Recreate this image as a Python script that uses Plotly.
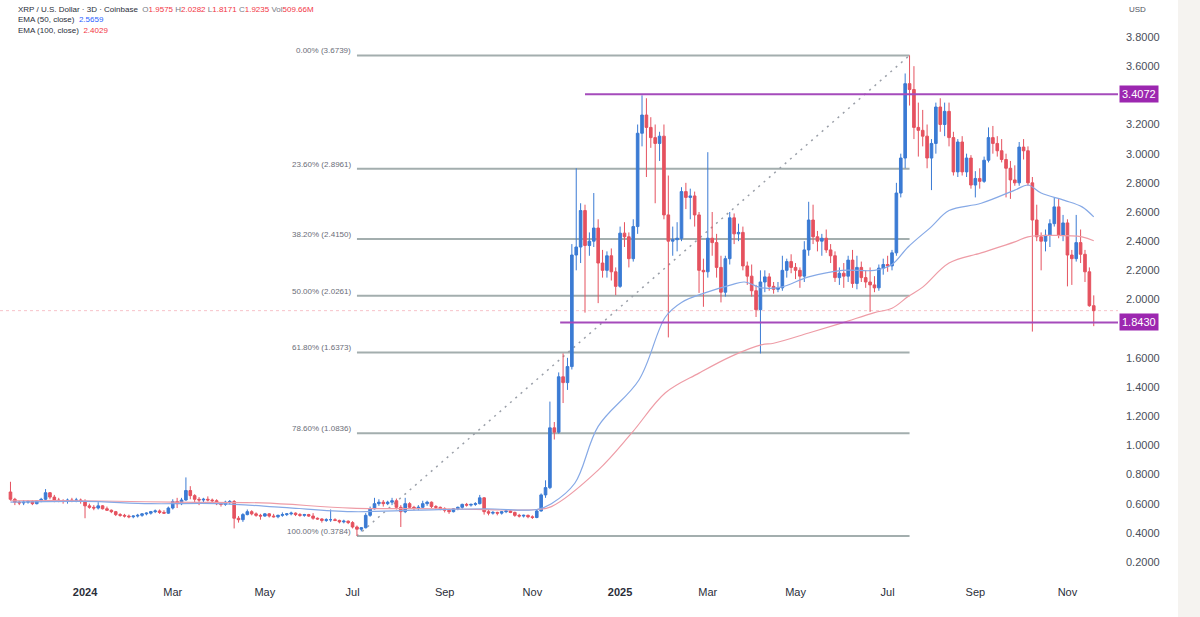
import plotly.graph_objects as go
import pandas as pd

# ---------------- data (3-day candles, XRP/USD Coinbase) ----------------
candle_start = "2023-11-11"
n_candles = 248

opens = [
 0.68,0.63,0.61,0.605,0.61,0.615,0.60,0.62,0.63,0.675,
 0.645,0.625,0.62,0.615,0.625,0.62,0.625,0.615,0.585,0.575,
 0.57,0.585,0.565,0.555,0.545,0.525,0.52,0.515,0.51,0.515,
 0.52,0.53,0.535,0.545,0.55,0.54,0.535,0.57,0.615,0.60,
 0.625,0.69,0.655,0.63,0.625,0.63,0.625,0.62,0.60,0.595,
 0.61,0.615,0.50,0.49,0.525,0.545,0.53,0.52,0.515,0.53,
 0.515,0.51,0.52,0.525,0.53,0.535,0.525,0.52,0.525,0.515,
 0.50,0.495,0.485,0.49,0.49,0.485,0.475,0.48,0.47,0.44,
 0.425,0.435,0.52,0.565,0.60,0.61,0.60,0.61,0.62,0.575,
 0.545,0.60,0.575,0.57,0.575,0.60,0.61,0.58,0.575,0.565,
 0.555,0.545,0.565,0.575,0.595,0.59,0.595,0.60,0.64,0.545,
 0.535,0.54,0.535,0.545,0.55,0.54,0.52,0.515,0.52,0.51,
 0.505,0.55,0.66,0.71,1.12,1.09,1.47,1.43,1.54,2.305,
 2.36,2.61,2.37,2.40,2.49,2.25,2.20,2.30,2.19,2.09,
 2.455,2.43,2.28,2.50,3.14,3.265,3.18,3.11,3.07,3.12,
 2.58,2.40,2.41,2.42,2.74,2.70,2.71,2.58,2.20,2.19,
 2.42,2.39,2.22,2.05,2.28,2.56,2.45,2.46,2.23,2.16,
 2.06,1.93,2.12,2.155,2.09,2.07,2.08,2.20,2.26,2.22,
 2.20,2.16,2.34,2.545,2.43,2.40,2.42,2.34,2.30,2.15,
 2.18,2.16,2.27,2.11,2.22,2.15,2.12,2.10,2.08,2.215,
 2.24,2.23,2.32,2.73,2.97,3.48,3.44,3.18,3.16,3.12,
 2.97,3.07,3.32,3.20,3.29,3.11,2.875,3.08,2.875,2.97,
 2.785,2.83,2.81,2.955,3.11,3.07,3.02,2.96,2.90,2.82,
 2.80,3.045,3.02,2.80,2.545,2.43,2.40,2.44,2.52,2.635,
 2.44,2.525,2.305,2.28,2.39,2.31,2.19,1.9575,
]
highs = [
 0.75,0.64,0.62,0.625,0.625,0.625,0.625,0.64,0.70,0.68,
 0.66,0.64,0.63,0.635,0.64,0.64,0.635,0.63,0.60,0.59,
 0.61,0.59,0.58,0.56,0.55,0.535,0.53,0.525,0.52,0.53,
 0.535,0.54,0.55,0.56,0.56,0.555,0.58,0.63,0.64,0.64,
 0.78,0.72,0.665,0.645,0.64,0.65,0.635,0.63,0.61,0.62,
 0.625,0.625,0.515,0.535,0.56,0.555,0.54,0.53,0.535,0.535,
 0.53,0.525,0.54,0.535,0.545,0.54,0.535,0.53,0.53,0.535,
 0.505,0.50,0.50,0.56,0.50,0.49,0.49,0.485,0.48,0.45,
 0.44,0.535,0.58,0.64,0.63,0.625,0.62,0.64,0.635,0.59,
 0.64,0.61,0.585,0.59,0.62,0.62,0.615,0.59,0.58,0.575,
 0.565,0.57,0.58,0.60,0.605,0.60,0.61,0.66,0.645,0.56,
 0.55,0.545,0.55,0.555,0.555,0.545,0.53,0.525,0.525,0.52,
 0.56,0.67,0.76,1.30,1.16,1.50,1.63,1.60,2.38,2.90,
 2.66,2.65,2.46,2.73,2.55,2.34,2.33,2.35,2.22,2.50,
 2.53,2.46,2.55,3.20,3.40,3.38,3.25,3.20,3.15,3.20,
 2.85,2.50,2.53,2.77,2.80,2.76,2.74,2.60,2.28,3.01,
 2.60,2.45,2.30,2.30,2.60,2.59,2.52,2.50,2.26,2.24,
 2.10,2.20,2.20,2.18,2.12,2.12,2.30,2.28,2.31,2.25,
 2.22,2.40,2.67,2.65,2.47,2.45,2.48,2.38,2.33,2.22,
 2.25,2.30,2.34,2.30,2.26,2.20,2.22,2.16,2.24,2.28,
 2.30,2.34,2.80,3.00,3.55,3.6739,3.60,3.35,3.30,3.20,
 3.10,3.35,3.38,3.35,3.35,3.15,3.10,3.12,3.00,2.99,
 2.88,2.90,2.98,3.18,3.19,3.12,3.10,3.00,2.95,2.92,
 3.08,3.10,3.05,2.84,2.65,2.46,2.48,2.55,2.70,2.69,
 2.58,2.55,2.34,2.58,2.48,2.34,2.22,2.0282,
]
lows = [
 0.62,0.59,0.59,0.59,0.60,0.59,0.595,0.61,0.62,0.63,
 0.61,0.61,0.60,0.60,0.61,0.61,0.60,0.50,0.565,0.555,
 0.56,0.56,0.55,0.535,0.515,0.51,0.505,0.50,0.50,0.505,
 0.51,0.52,0.525,0.535,0.53,0.53,0.53,0.56,0.57,0.59,
 0.62,0.63,0.61,0.59,0.61,0.615,0.61,0.59,0.58,0.585,
 0.595,0.43,0.47,0.475,0.52,0.52,0.51,0.49,0.51,0.505,
 0.505,0.50,0.51,0.515,0.52,0.515,0.51,0.51,0.51,0.49,
 0.49,0.47,0.475,0.475,0.48,0.465,0.465,0.46,0.43,0.3784,
 0.41,0.43,0.51,0.56,0.585,0.58,0.59,0.59,0.56,0.44,
 0.535,0.565,0.555,0.555,0.57,0.585,0.57,0.56,0.555,0.54,
 0.53,0.54,0.555,0.565,0.58,0.58,0.585,0.595,0.525,0.52,
 0.525,0.52,0.525,0.535,0.535,0.51,0.505,0.505,0.50,0.495,
 0.50,0.545,0.64,0.70,1.04,1.08,1.29,1.38,1.52,2.20,
 2.25,1.91,2.30,2.36,1.975,2.15,2.15,2.13,2.03,2.08,
 2.36,2.22,2.26,2.45,3.05,2.84,3.04,2.66,2.95,2.55,
 1.74,2.30,2.33,2.40,2.62,2.55,2.50,2.045,1.95,2.15,
 2.30,2.15,1.98,2.02,2.24,2.38,2.40,2.20,2.10,2.02,
 1.88,1.63,2.05,2.06,2.04,2.05,2.06,2.15,2.18,2.14,
 2.08,2.12,2.30,2.38,2.33,2.30,2.32,2.25,2.12,2.10,
 2.08,2.12,2.08,2.07,2.12,2.08,1.915,2.05,2.06,2.17,
 2.19,2.20,2.30,2.70,2.90,3.33,3.10,2.98,3.05,2.90,
 2.75,3.00,3.15,3.12,3.05,2.85,2.84,2.85,2.84,2.76,
 2.70,2.76,2.80,2.94,3.00,2.98,2.94,2.70,2.69,2.78,
 2.78,2.96,2.78,1.78,2.40,2.20,2.33,2.36,2.50,2.42,
 2.40,2.09,2.10,2.26,2.25,2.12,1.95,1.8171,
]
closes = [
 0.63,0.61,0.605,0.61,0.615,0.60,0.62,0.63,0.675,0.645,
 0.625,0.62,0.615,0.625,0.62,0.625,0.615,0.585,0.575,0.57,
 0.585,0.565,0.555,0.545,0.525,0.52,0.515,0.51,0.515,0.52,
 0.53,0.535,0.545,0.55,0.54,0.535,0.57,0.615,0.60,0.625,
 0.69,0.655,0.63,0.625,0.63,0.625,0.62,0.60,0.595,0.61,
 0.615,0.50,0.49,0.525,0.545,0.53,0.52,0.515,0.53,0.515,
 0.51,0.52,0.525,0.53,0.535,0.525,0.52,0.525,0.515,0.50,
 0.495,0.485,0.49,0.49,0.485,0.475,0.48,0.47,0.44,0.425,
 0.435,0.52,0.565,0.60,0.61,0.60,0.61,0.62,0.575,0.545,
 0.60,0.575,0.57,0.575,0.60,0.61,0.58,0.575,0.565,0.555,
 0.545,0.565,0.575,0.595,0.59,0.595,0.60,0.64,0.545,0.535,
 0.54,0.535,0.545,0.55,0.54,0.52,0.515,0.52,0.51,0.505,
 0.55,0.66,0.71,1.12,1.09,1.47,1.43,1.54,2.305,2.36,
 2.61,2.37,2.40,2.49,2.25,2.20,2.30,2.19,2.09,2.455,
 2.43,2.28,2.50,3.14,3.265,3.18,3.11,3.07,3.12,2.58,
 2.40,2.41,2.42,2.74,2.70,2.71,2.58,2.20,2.19,2.42,
 2.39,2.22,2.05,2.28,2.56,2.45,2.46,2.23,2.16,2.06,
 1.93,2.12,2.155,2.09,2.07,2.08,2.20,2.26,2.22,2.20,
 2.16,2.34,2.545,2.43,2.40,2.42,2.34,2.30,2.15,2.18,
 2.16,2.27,2.11,2.22,2.15,2.12,2.10,2.08,2.215,2.24,
 2.23,2.32,2.73,2.97,3.48,3.44,3.18,3.16,3.12,2.97,
 3.07,3.32,3.20,3.29,3.11,2.875,3.08,2.875,2.97,2.785,
 2.83,2.81,2.955,3.11,3.07,3.02,2.96,2.90,2.82,2.80,
 3.045,3.02,2.80,2.545,2.43,2.40,2.44,2.52,2.635,2.44,
 2.525,2.305,2.28,2.39,2.31,2.19,1.9575,1.9235,
]

ema50_dates = ["2023-11-11","2024-01-01","2024-02-15","2024-04-01","2024-05-15","2024-07-01",
               "2024-08-15","2024-10-01","2024-11-05","2024-11-15","2024-12-01","2024-12-17",
               "2025-01-14","2025-02-01","2025-02-12","2025-02-28","2025-03-18","2025-03-27",
               "2025-04-08","2025-04-21","2025-05-10","2025-06-02","2025-06-24","2025-07-06",
               "2025-07-17","2025-08-02","2025-08-14","2025-09-05","2025-09-28","2025-10-07",
               "2025-10-16","2025-11-01","2025-11-13","2025-11-21"]
ema50_vals = [0.61,0.615,0.60,0.60,0.575,0.545,
              0.555,0.565,0.56,0.60,0.74,1.13,
              1.45,1.88,1.98,2.045,2.10,2.12,
              2.08,2.085,2.155,2.20,2.20,2.24,
              2.36,2.50,2.61,2.66,2.75,2.785,
              2.73,2.68,2.635,2.566]

ema100_dates = ["2023-11-11","2024-01-01","2024-03-01","2024-05-01","2024-07-01","2024-09-01",
                "2024-11-05","2024-11-15","2024-12-17","2025-01-09","2025-02-01","2025-02-24",
                "2025-03-18","2025-04-08","2025-04-16","2025-05-10","2025-06-02","2025-06-24",
                "2025-07-06","2025-07-17","2025-07-27","2025-08-14","2025-09-05","2025-09-28",
                "2025-10-07","2025-10-21","2025-11-13","2025-11-21"]
ema100_vals = [0.62,0.62,0.61,0.605,0.57,0.565,
               0.56,0.58,0.83,1.085,1.36,1.495,
               1.61,1.69,1.70,1.77,1.84,1.91,
               1.94,2.02,2.085,2.25,2.32,2.395,
               2.43,2.44,2.43,2.403]

fib_levels = [0.0, 23.6, 38.2, 50.0, 61.8, 78.6, 100.0]
fib_prices = [3.6739, 2.8961, 2.4150, 2.0261, 1.6373, 1.0836, 0.3784]
fib_start, fib_end = "2024-07-05", "2025-07-18"

resistance = 3.4072
resistance_start = "2024-12-08"
support = 1.8430
support_start = "2024-11-21"
last_price = 1.9235

x_tick_vals = ["2024-01-01","2024-03-01","2024-05-03","2024-07-02","2024-09-03","2024-11-02",
               "2025-01-01","2025-03-02","2025-05-01","2025-07-03","2025-09-01","2025-11-03"]
x_tick_text = ["<b>2024</b>","Mar","May","Jul","Sep","Nov",
               "<b>2025</b>","Mar","May","Jul","Sep","Nov"]
# 1.8 and 3.4 are hidden behind the price-level boxes in the reference
y_tick_vals = [0.2,0.4,0.6,0.8,1.0,1.2,1.4,1.6,2.0,2.2,2.4,2.6,2.8,3.0,3.2,3.6,3.8]

x_range = ["2023-11-03 20:00", "2025-12-07 14:00"]
y_range = [0.1108, 4.0537]

# ---------------- styling ----------------
UP = "#3B7BD4"
DOWN = "#E5525F"
EMA50_C = "#86A9E6"
EMA100_C = "#EE9CA6"
FIB_C = "#A3AEAE"
PURPLE = "#A54BBB"
PURPLE_BOX = "#9C27B0"
TXT = "#2A2E39"
FONT = "Liberation Sans, Arial, sans-serif"

dates = pd.date_range(candle_start, periods=n_candles, freq="3D")

fig = go.Figure()
fig.add_trace(go.Candlestick(
    x=dates, open=opens, high=highs, low=lows, close=closes,
    increasing=dict(line=dict(color=UP, width=1), fillcolor=UP),
    decreasing=dict(line=dict(color=DOWN, width=1), fillcolor=DOWN),
    whiskerwidth=0, showlegend=False, hoverinfo="skip"))
fig.add_trace(go.Scatter(x=ema100_dates, y=ema100_vals, mode="lines",
                         line=dict(color=EMA100_C, width=1.2, shape="spline"),
                         showlegend=False, hoverinfo="skip"))
fig.add_trace(go.Scatter(x=ema50_dates, y=ema50_vals, mode="lines",
                         line=dict(color=EMA50_C, width=1.2, shape="spline"),
                         showlegend=False, hoverinfo="skip"))

shapes = []
annotations = []

# fib retracement
for lvl, pr in zip(fib_levels, fib_prices):
    shapes.append(dict(type="line", xref="x", yref="y", x0=fib_start, x1=fib_end,
                       y0=pr, y1=pr, line=dict(color=FIB_C, width=2), layer="below"))
    annotations.append(dict(xref="x", yref="y", x=fib_start, y=pr, xanchor="right",
                            yanchor="bottom", xshift=-4, yshift=-2, showarrow=False,
                            text=f"{lvl:.2f}% ({pr:.4f})",
                            font=dict(family=FONT, size=8, color="#6A6D78")))
shapes.append(dict(type="line", xref="x", yref="y", x0=fib_start, y0=fib_prices[-1],
                   x1=fib_end, y1=fib_prices[0],
                   line=dict(color="#9A9FA8", width=1.5, dash="2px,5px"), layer="below"))

# last price line
shapes.append(dict(type="line", xref="paper", yref="y", x0=0, x1=1, y0=last_price, y1=last_price,
                   line=dict(color="rgba(235,120,135,0.45)", width=1, dash="dot"), layer="below"))

# horizontal support / resistance
for lv, st in [(resistance, resistance_start), (support, support_start)]:
    shapes.append(dict(type="line", xref="x", yref="y", x0=st, x1=x_range[1], y0=lv, y1=lv,
                       line=dict(color=PURPLE, width=2)))
    annotations.append(dict(xref="paper", yref="y", x=1, y=lv, xanchor="left", yanchor="middle",
                            xshift=1, showarrow=False, text=f"{lv:.4f}",
                            bgcolor=PURPLE_BOX, borderpad=2,
                            font=dict(family=FONT, size=11, color="white")))

# beige side panel
shapes.append(dict(type="rect", xref="paper", yref="paper", x0=1178/1118, x1=1210/1118,
                   y0=-0.1, y1=1.0, fillcolor="#F5F3F0", line=dict(width=0), layer="below"))

# header legend
grey = "#787B86"
red = "#F23645"
blue = "#2962FF"
line1 = (f'<span style="color:{TXT}">XRP / U.S. Dollar · 3D · Coinbase</span>  '
         f'<span style="color:{grey}">O</span><span style="color:{red}">1.9575</span> '
         f'<span style="color:{grey}">H</span><span style="color:{red}">2.0282</span> '
         f'<span style="color:{grey}">L</span><span style="color:{red}">1.8171</span> '
         f'<span style="color:{grey}">C</span><span style="color:{red}">1.9235</span> '
         f'<span style="color:{grey}">Vol</span><span style="color:{red}">509.66M</span>')
line2 = f'<span style="color:{TXT}">EMA (50, close)</span>  <span style="color:{blue}">2.5659</span>'
line3 = f'<span style="color:{TXT}">EMA (100, close)</span>  <span style="color:{red}">2.4029</span>'
annotations.append(dict(xref="paper", yref="paper", x=16/1118, y=1 - 3/575, xanchor="left",
                        yanchor="top", align="left", showarrow=False,
                        text=line1 + "<br>" + line2 + "<br>" + line3,
                        font=dict(family=FONT, size=8, color=TXT)))
annotations.append(dict(xref="paper", yref="paper", x=1127/1118, y=1 - 3/575, xanchor="left",
                        yanchor="top", showarrow=False, text="USD",
                        font=dict(family=FONT, size=8, color="#50535E")))

fig.update_layout(
    width=1200, height=617,
    margin=dict(l=0, r=82, t=0, b=42),
    paper_bgcolor="white", plot_bgcolor="white",
    showlegend=False,
    boxgap=0.15,
    shapes=shapes, annotations=annotations,
    font=dict(family=FONT, size=11, color=TXT),
    xaxis=dict(type="date", range=x_range, rangeslider=dict(visible=False),
               showgrid=False, zeroline=False, showline=False,
               tickmode="array", tickvals=x_tick_vals, ticktext=x_tick_text,
               ticks="", ticklabelstandoff=9,
               tickfont=dict(family=FONT, size=11, color=TXT)),
    yaxis=dict(side="right", range=y_range, showgrid=False, zeroline=False, showline=False,
               tickmode="array", tickvals=y_tick_vals,
               ticktext=[f"{v:.4f}" for v in y_tick_vals],
               ticks="", ticklabelstandoff=7,
               tickfont=dict(family=FONT, size=11, color="#4A4E59")),
)

fig.write_html("out.html")
